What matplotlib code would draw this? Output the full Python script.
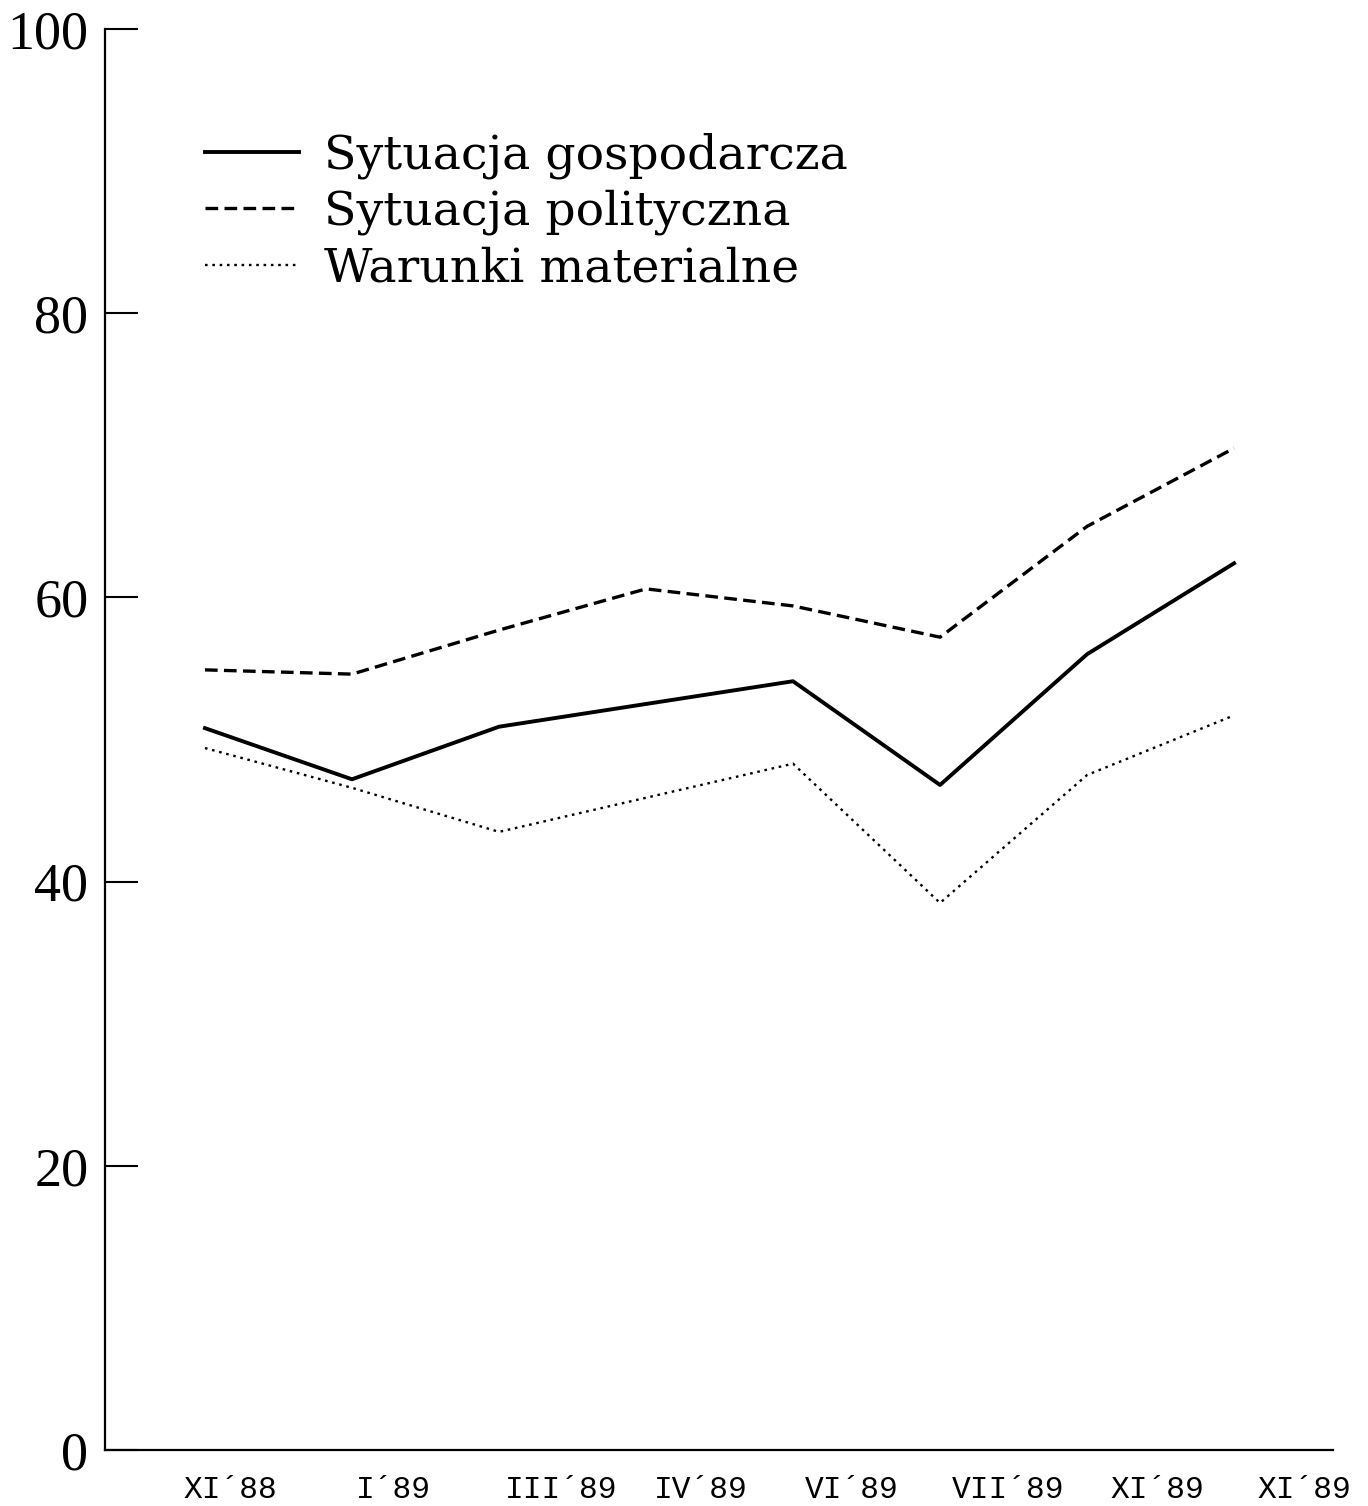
import matplotlib
matplotlib.use('Agg')
import matplotlib.pyplot as plt
import numpy as np

# data (percent)
okresy = ['XI´88', 'I´89', 'III´89', 'IV´89', 'VI´89', 'VII´89', 'XI´89', 'XI´89']
gospodarcza = [50.8, 47.2, 50.9, 52.5, 54.1, 46.8, 56.0, 62.4]
polityczna = [54.9, 54.6, 57.7, 60.6, 59.4, 57.2, 65.0, 70.5]
materialne = [49.4, 46.6, 43.5, 45.9, 48.3, 38.5, 47.5, 51.7]
# label centres are a bit off from the points in the original
label_pos = [0.17, 1.28, 2.42, 3.37, 4.40, 5.46, 6.48, 7.48]

x = np.arange(len(gospodarcza))

fig = plt.figure(figsize=(13.68, 15.06), dpi=100)
ax = fig.add_axes([105/1368, 1-1450/1506, 1228/1368, 1421/1506])

ax.plot(x, gospodarcza, color='black', lw=2.8, label='Sytuacja gospodarcza')
ax.plot(x, polityczna, color='black', lw=2.4, dashes=(3.8, 1.9), label='Sytuacja polityczna')
ax.plot(x, materialne, color='black', lw=1.7, dashes=(1.1, 2.0), label='Warunki materialne')

ax.set_xlim(-0.68, 7.673)
ax.set_ylim(0, 100)
ax.set_yticks([0, 20, 40, 60, 80, 100])
ax.set_xticks(label_pos)
ax.set_xticklabels(okresy, family='Liberation Mono', fontsize=22.5)
ax.tick_params(axis='x', length=0, pad=18)
ax.tick_params(axis='y', direction='in', length=24, width=1.5, pad=12,
               labelsize=39)
for t in ax.get_yticklabels():
    t.set_family('Liberation Serif')

for s in ['top', 'right']:
    ax.spines[s].set_visible(False)
for s in ['left', 'bottom']:
    ax.spines[s].set_linewidth(1.6)

ax.legend(loc='upper left', bbox_to_anchor=(0.0814, 0.927), frameon=False,
          prop={'family': 'DejaVu Serif', 'size': 34}, handlelength=2.0,
          handletextpad=0.53, labelspacing=0.22, borderpad=0, borderaxespad=0)

fig.savefig('out.png', dpi=100)
